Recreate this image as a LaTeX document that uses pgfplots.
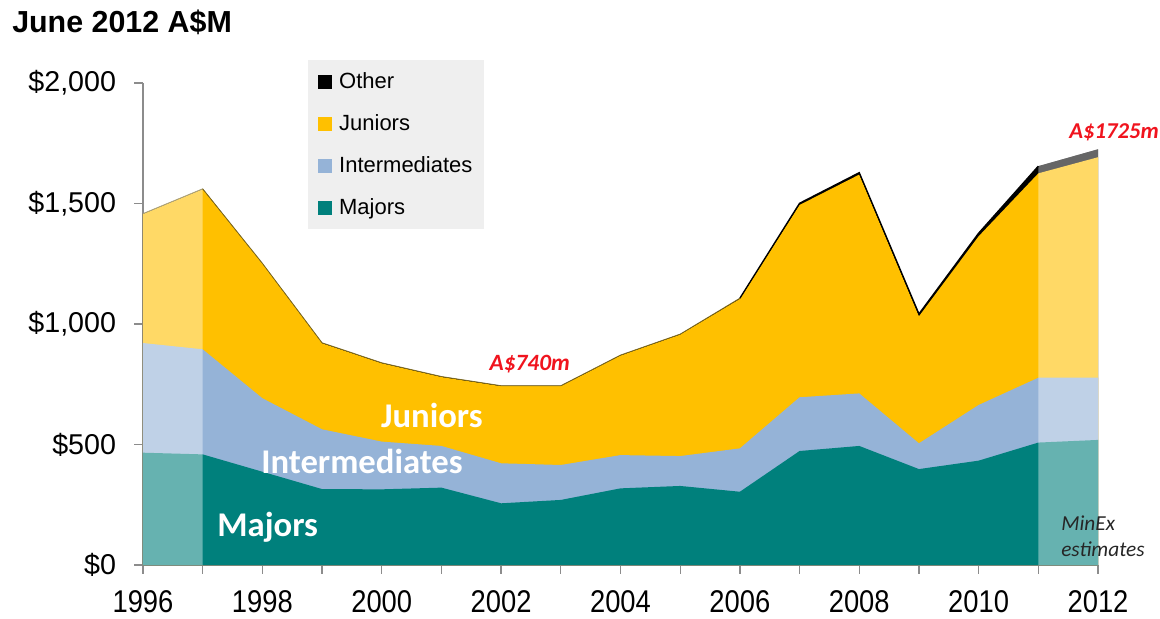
\documentclass[border=0pt]{standalone}
\usepackage{pgfplots}
\pgfplotsset{compat=1.18}
\usepackage{pgfplotstable}
\usepackage{fontspec}
\setmainfont{Liberation Sans}
\newfontfamily\carlito{Carlito}

\definecolor{teal1}{HTML}{00807C}
\definecolor{int1}{HTML}{95B3D7}
\definecolor{jun1}{HTML}{FFC000}
\definecolor{legbg}{HTML}{EFEFEF}
\definecolor{axgray}{HTML}{8C8C8C}
\definecolor{redlab}{HTML}{F0141E}
\definecolor{edge}{HTML}{7F6A1E}
\definecolor{edgelight}{HTML}{B2A678}

% cumulative tops: majors, +intermediates, +juniors, +other (A$M)
\pgfplotstableread{
year maj int jun tot
1996 466 921 1456 1458
1997 459 895 1559 1561
1998 387 692 1250 1252
1999 315 563 920 922
2000 314 512 837 839
2001 321 494 780 782
2002 256 422 742 744
2003 270 415 742 744
2004 318 456 869 871
2005 328 452 956 958
2006 304 484 1104 1107
2007 473 696 1494 1501
2008 494 712 1620 1628
2009 398 505 1032 1042
2010 433 664 1364 1377
2011 508 777 1625 1655
2012 519 777 1692 1725
}\data

\newcommand{\yl}[1]{\scalebox{1}[1.15]{#1}}

\begin{document}
\begin{tikzpicture}
\path[use as bounding box] (-107.25pt,-39.75pt) rectangle (762.75pt,423.75pt);
\begin{axis}[
  at={(0pt,0pt)}, anchor=south west,
  scale only axis, width=716.25pt, height=361.5pt,
  xmin=1996, xmax=2012, ymin=0, ymax=2000,
  clip=false,
  axis lines=left,
  axis line style={draw=axgray, line width=1pt, -},
  tick align=outside,
  major tick length=6.5pt, minor tick length=6.5pt,
  tick style={draw=axgray, line width=1pt},
  minor tick style={draw=axgray, line width=1pt},
  xtick={1996,1998,2000,2002,2004,2006,2008,2010,2012},
  xticklabels={\yl{1996},\yl{1998},\yl{2000},\yl{2002},\yl{2004},\yl{2006},\yl{2008},\yl{2010},\yl{2012}},
  minor xtick={1997,1999,2001,2003,2005,2007,2009,2011},
  ytick={0,500,1000,1500,2000},
  yticklabels={{\$0},{\$500},{\$1,000},{\$1,500},{\$2,000}},
  xticklabel style={font=\fontsize{20.5}{23}\selectfont, inner sep=0pt, anchor=north, yshift=-12.5pt},
  yticklabel style={font=\fontsize{21.5}{24}\selectfont, inner sep=0pt, anchor=east, xshift=-13.5pt},
  legend image code/.code={\fill[#1] (0pt,-4.9pt) rectangle (9.75pt,4.9pt);},
  legend style={at={(rel axis cs:0.1728,1.0477)}, anchor=north west,
    fill=legbg, draw=none, font=\fontsize{16.5}{19}\selectfont,
    inner xsep=7pt, inner ysep=7.5pt, row sep=14pt, column sep=4pt},
  legend cell align=left,
]
% stacked areas (painter's order, each down to zero)
\addplot[fill=black, draw=none, forget plot] table[x=year,y=tot]{\data} \closedcycle;
\addplot[fill=jun1, draw=none, forget plot] table[x=year,y=jun]{\data} \closedcycle;
\addplot[fill=int1, draw=none, forget plot] table[x=year,y=int]{\data} \closedcycle;
\addplot[fill=teal1, draw=none, forget plot] table[x=year,y=maj]{\data} \closedcycle;
% lighten the first year and the estimated year
\addplot[fill=white, fill opacity=0.4, draw=none, forget plot, restrict x to domain=1996:1997] table[x=year,y=tot]{\data} \closedcycle;
\addplot[fill=white, fill opacity=0.4, draw=none, forget plot, restrict x to domain=2011:2012] table[x=year,y=tot]{\data} \closedcycle;
% top edges
\addplot[edgelight, line width=0.6pt, forget plot, restrict x to domain=1996:1997] table[x=year,y=tot]{\data};
\addplot[edge, line width=0.6pt, forget plot, restrict x to domain=1997:2006] table[x=year,y=tot]{\data};
\addplot[black, line width=1pt, forget plot, restrict x to domain=2006:2011] table[x=year,y=tot]{\data};

\addlegendimage{black}
\addlegendentry{Other}
\addlegendimage{jun1}
\addlegendentry{Juniors}
\addlegendimage{int1}
\addlegendentry{Intermediates}
\addlegendimage{teal1}
\addlegendentry{Majors}

\node[font=\carlito\bfseries\fontsize{26}{28}\selectfont, text=white] at (axis cs:2000.84,622) {Juniors};
\node[font=\carlito\bfseries\fontsize{26}{28}\selectfont, text=white] at (axis cs:1999.67,431) {Intermediates};
\node[font=\carlito\bfseries\fontsize{26}{28}\selectfont, text=white] at (axis cs:1998.09,158) {Majors};
\node[font=\carlito\bfseries\itshape\fontsize{17.5}{19}\selectfont, text=redlab] at (axis cs:2002.48,834) {A\$740m};
\node[font=\carlito\bfseries\itshape\fontsize{17}{19}\selectfont, text=redlab] at (axis cs:2012.27,1797) {A\$1725m};
\node[font=\carlito\itshape\fontsize{16}{17}\selectfont, text=black!85, anchor=west, inner sep=0pt] at (axis cs:2011.38,174) {MinEx};
\node[font=\carlito\itshape\fontsize{16}{17}\selectfont, text=black!85, anchor=west, inner sep=0pt] at (axis cs:2011.38,66) {estimates};
\end{axis}
\node[anchor=west, inner sep=0pt, font=\bfseries\fontsize{22.8}{25}\selectfont] at (-98.25pt,407.25pt) {June 2012 A\$M};
\end{tikzpicture}
\end{document}
